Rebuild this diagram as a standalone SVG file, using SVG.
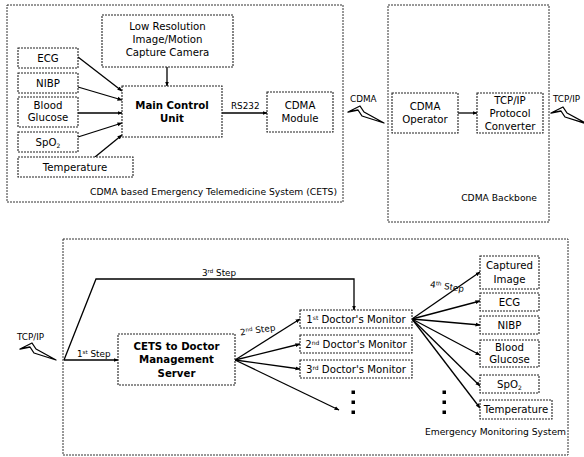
<svg xmlns="http://www.w3.org/2000/svg" width="584" height="457" viewBox="0 0 584 457">
<style>
.frame{fill:none;stroke:#333;stroke-width:1;stroke-dasharray:2,1}
.box{fill:#fff;stroke:#222;stroke-width:1.1;stroke-dasharray:2,1}
.t{font-family:"DejaVu Sans",Verdana,sans-serif;font-size:10.2px;fill:#000;text-anchor:middle}
.b{font-weight:bold}
.cap{font-family:"DejaVu Sans",Verdana,sans-serif;font-size:9.2px;fill:#000;text-anchor:end}
.lbl{font-family:"DejaVu Sans",Verdana,sans-serif;font-size:8.8px;fill:#000}
.c{fill:none;stroke:#000;stroke-width:1.3}
.a{marker-end:url(#ah)}
.bolt{fill:#fff;stroke:#000;stroke-width:1.3;stroke-linejoin:round}
.dot{fill:#000}
</style>
<defs>
<marker id="ah" viewBox="0 0 10 10" refX="9" refY="5" markerWidth="5" markerHeight="5" orient="auto" markerUnits="userSpaceOnUse">
<path d="M0,1 L10,5 L0,9 Z" fill="#000"/>
</marker>
<path id="boltShape" d="M0,6 L12,0 L16,6 L36,17 L14,10 L10,4 Z"/>
</defs>

<g id="frames">
<rect class="frame" x="7" y="5" width="336" height="197"/>
<rect class="frame" x="388" y="5" width="161" height="217"/>
<rect class="frame" x="63" y="239" width="505" height="216"/>
<text class="cap" x="337" y="195">CDMA based Emergency Telemedicine System (CETS)</text>
<text class="cap" x="537" y="201">CDMA Backbone</text>
<text class="cap" x="566" y="435">Emergency Monitoring System</text>
</g>

<g id="connectors">
<line class="c a" x1="78" y1="57" x2="122" y2="91"/>
<line class="c a" x1="78" y1="87" x2="122" y2="100"/>
<line class="c a" x1="78" y1="113" x2="122" y2="113"/>
<line class="c a" x1="78" y1="137" x2="122" y2="123"/>
<line class="c a" x1="95" y1="157" x2="122" y2="135"/>
<line class="c a" x1="167" y1="67" x2="167" y2="86"/>
<line class="c a" x1="222" y1="113" x2="267" y2="113"/>
<line class="c a" x1="458" y1="113" x2="477" y2="113"/>
<line class="c a" x1="64" y1="360" x2="118" y2="360"/>
<path class="c a" d="M64,360 L96,279 L354,279 L354,310"/>
<line class="c a" x1="235" y1="360" x2="300" y2="319"/>
<line class="c a" x1="235" y1="360" x2="300" y2="344"/>
<line class="c a" x1="235" y1="360" x2="300" y2="369"/>
<line class="c a" x1="235" y1="360" x2="339" y2="410"/>
<line class="c a" x1="412" y1="319" x2="480" y2="272"/>
<line class="c a" x1="412" y1="319" x2="480" y2="301"/>
<line class="c a" x1="412" y1="319" x2="480" y2="325"/>
<line class="c a" x1="412" y1="319" x2="480" y2="355"/>
<line class="c a" x1="412" y1="319" x2="480" y2="386"/>
<line class="c a" x1="412" y1="319" x2="480" y2="408"/>
<text class="lbl" x="231" y="109">RS232</text>
<text class="lbl" x="77" y="357">1<tspan font-size="5.5" dy="-3">st</tspan><tspan dy="3"> Step</tspan></text>
<text class="lbl" x="202" y="276">3<tspan font-size="5.5" dy="-3">rd</tspan><tspan dy="3"> Step</tspan></text>
<text class="lbl" x="240" y="333" transform="rotate(-8 258 330)">2<tspan font-size="5.5" dy="-3">nd</tspan><tspan dy="3"> Step</tspan></text>
<text class="lbl" x="430" y="289" transform="rotate(8 443 286)">4<tspan font-size="5.5" dy="-3">th</tspan><tspan dy="3"> Step</tspan></text>
</g>

<g id="links">
<text class="lbl" x="350" y="102">CDMA</text>
<use href="#boltShape" class="bolt" transform="translate(348,106)"/>
<text class="lbl" x="553" y="102">TCP/IP</text>
<use href="#boltShape" class="bolt" transform="translate(551,107)"/>
<text class="lbl" x="17" y="340">TCP/IP</text>
<use href="#boltShape" class="bolt" transform="translate(20,343)"/>
</g>

<g id="camera"><rect class="box" x="102" y="15" width="131" height="52"/>
<text class="t" x="167.5" y="30">Low Resolution</text><text class="t" x="167.5" y="43">Image/Motion</text><text class="t" x="167.5" y="56">Capture Camera</text></g>
<g id="ecg1"><rect class="box" x="18" y="48" width="60" height="20"/><text class="t" x="48" y="61.5">ECG</text></g>
<g id="nibp1"><rect class="box" x="18" y="73" width="60" height="20"/><text class="t" x="48" y="86.5">NIBP</text></g>
<g id="bg1"><rect class="box" x="18" y="97" width="60" height="30"/><text class="t" x="48" y="109">Blood</text><text class="t" x="48" y="121">Glucose</text></g>
<g id="spo21"><rect class="box" x="18" y="132" width="60" height="20"/><text class="t" x="48" y="145.5">SpO<tspan font-size="6" dy="2">2</tspan></text></g>
<g id="temp1"><rect class="box" x="18" y="157" width="115" height="20"/><text class="t" x="75" y="170.5">Temperature</text></g>
<g id="mcu"><rect class="box" x="122" y="86" width="100" height="51"/><text class="t b" x="172" y="109">Main Control</text><text class="t b" x="172" y="122">Unit</text></g>
<g id="cdmamodule"><rect class="box" x="267" y="92" width="66" height="40"/><text class="t" x="300" y="109">CDMA</text><text class="t" x="300" y="122">Module</text></g>
<g id="cdmaop"><rect class="box" x="392" y="93" width="66" height="40"/><text class="t" x="425" y="110">CDMA</text><text class="t" x="425" y="123">Operator</text></g>
<g id="converter"><rect class="box" x="477" y="93" width="66" height="40"/><text class="t" x="510" y="104">TCP/IP</text><text class="t" x="510" y="117">Protocol</text><text class="t" x="510" y="130">Converter</text></g>

<g id="server"><rect class="box" x="118" y="334" width="117" height="51"/>
<text class="t b" x="176.5" y="350">CETS to Doctor</text><text class="t b" x="176.5" y="363">Management</text><text class="t b" x="176.5" y="377">Server</text></g>
<g id="mon1"><rect class="box" x="300" y="310" width="112" height="18"/><text class="t" x="356" y="322.5">1<tspan font-size="6" dy="-3">st</tspan><tspan dy="3"> Doctor's Monitor</tspan></text></g>
<g id="mon2"><rect class="box" x="300" y="335" width="112" height="18"/><text class="t" x="356" y="347.5">2<tspan font-size="6" dy="-3">nd</tspan><tspan dy="3"> Doctor's Monitor</tspan></text></g>
<g id="mon3"><rect class="box" x="300" y="360" width="112" height="18"/><text class="t" x="356" y="372.5">3<tspan font-size="6" dy="-3">rd</tspan><tspan dy="3"> Doctor's Monitor</tspan></text></g>
<g id="dots">
<rect class="dot" x="351.5" y="390.5" width="3.5" height="3.5"/><rect class="dot" x="351.5" y="400.5" width="3.5" height="3.5"/><rect class="dot" x="351.5" y="410.5" width="3.5" height="3.5"/>
<rect class="dot" x="442.5" y="390.5" width="3.5" height="3.5"/><rect class="dot" x="442.5" y="400.5" width="3.5" height="3.5"/><rect class="dot" x="442.5" y="410.5" width="3.5" height="3.5"/>
</g>
<g id="img2"><rect class="box" x="480" y="256" width="59" height="33"/><text class="t" x="509.5" y="269">Captured</text><text class="t" x="509.5" y="283">Image</text></g>
<g id="ecg2"><rect class="box" x="480" y="293" width="59" height="18"/><text class="t" x="509.5" y="305.5">ECG</text></g>
<g id="nibp2"><rect class="box" x="480" y="316" width="59" height="18"/><text class="t" x="509.5" y="328.5">NIBP</text></g>
<g id="bg2"><rect class="box" x="480" y="340" width="59" height="27"/><text class="t" x="509.5" y="351">Blood</text><text class="t" x="509.5" y="363">Glucose</text></g>
<g id="spo22"><rect class="box" x="480" y="375" width="59" height="18"/><text class="t" x="509.5" y="387.5">SpO<tspan font-size="6" dy="2">2</tspan></text></g>
<g id="temp2"><rect class="box" x="480" y="400" width="72" height="19"/><text class="t" x="516" y="413">Temperature</text></g>
</svg>
